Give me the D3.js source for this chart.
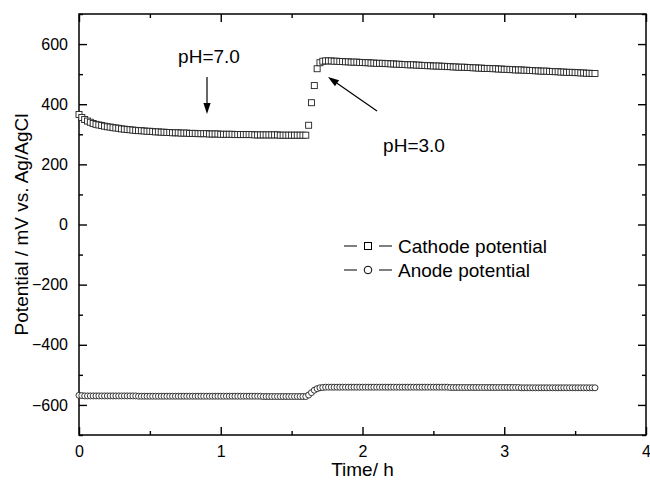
<!DOCTYPE html>
<html><head><meta charset="utf-8">
<script src="https://cdn.jsdelivr.net/npm/d3@7"></script>
<style>
html,body{margin:0;padding:0;background:#fff;}
svg text{font-family:"Liberation Sans",Arial,Helvetica,sans-serif;fill:#000;}
</style></head>
<body><svg id="c" width="650" height="481"></svg>
<script>
// ---- data ----
const times = [
0.00,0.02,0.04,0.06,0.08,0.10,0.12,0.14,0.16,0.18,
0.20,0.22,0.24,0.26,0.28,0.30,0.32,0.34,0.36,0.38,
0.40,0.42,0.44,0.46,0.48,0.50,0.52,0.54,0.56,0.58,
0.60,0.62,0.64,0.66,0.68,0.70,0.72,0.74,0.76,0.78,
0.80,0.82,0.84,0.86,0.88,0.90,0.92,0.94,0.96,0.98,
1.00,1.02,1.04,1.06,1.08,1.10,1.12,1.14,1.16,1.18,
1.20,1.22,1.24,1.26,1.28,1.30,1.32,1.34,1.36,1.38,
1.40,1.42,1.44,1.46,1.48,1.50,1.52,1.54,1.56,1.58,
1.60,1.62,1.64,1.66,1.68,1.70,1.72,1.74,1.76,1.78,
1.80,1.82,1.84,1.86,1.88,1.90,1.92,1.94,1.96,1.98,
2.00,2.02,2.04,2.06,2.08,2.10,2.12,2.14,2.16,2.18,
2.20,2.22,2.24,2.26,2.28,2.30,2.32,2.34,2.36,2.38,
2.40,2.42,2.44,2.46,2.48,2.50,2.52,2.54,2.56,2.58,
2.60,2.62,2.64,2.66,2.68,2.70,2.72,2.74,2.76,2.78,
2.80,2.82,2.84,2.86,2.88,2.90,2.92,2.94,2.96,2.98,
3.00,3.02,3.04,3.06,3.08,3.10,3.12,3.14,3.16,3.18,
3.20,3.22,3.24,3.26,3.28,3.30,3.32,3.34,3.36,3.38,
3.40,3.42,3.44,3.46,3.48,3.50,3.52,3.54,3.56,3.58,
3.60,3.62,3.64];

const cathode = [
366,356,349,344,340,336,333,331,329,327,
325,324,322,321,320,318,317,316,315,314,
313,312,312,311,310,310,309,308,308,307,
307,306,306,305,305,305,304,304,304,303,
303,303,302,302,302,302,301,301,301,301,
300,300,300,300,300,299,299,299,299,299,
299,299,298,298,298,298,298,298,298,298,
298,297,297,297,297,297,297,297,297,297,
297,330,405,462,518,538,543,544,544,544,
543,543,542,542,541,541,540,540,540,539,
539,538,538,537,537,536,536,536,535,535,
534,534,533,533,532,532,531,531,531,530,
530,529,529,528,528,527,527,527,526,526,
525,525,524,524,523,523,523,522,522,521,
521,520,520,519,519,519,518,518,517,517,
516,516,515,515,514,514,514,513,513,512,
512,511,511,510,510,510,509,509,508,508,
507,507,506,506,506,505,505,504,504,503,
503,502,502];

const anode = [
-568,-569,-570,-570,-570,-570,-570,-570,-570,-570,
-570,-570,-570,-570,-570,-570,-570,-570,-570,-570,
-570,-571,-571,-571,-571,-571,-571,-571,-571,-571,
-571,-571,-571,-571,-571,-571,-571,-571,-571,-571,
-571,-571,-571,-571,-571,-571,-571,-571,-571,-571,
-571,-571,-571,-571,-571,-571,-571,-571,-571,-571,
-571,-571,-571,-571,-571,-572,-572,-572,-572,-572,
-572,-572,-572,-572,-572,-572,-572,-572,-572,-572,
-572,-567,-559,-551,-546,-543,-542,-541,-541,-541,
-541,-541,-541,-541,-541,-541,-541,-541,-541,-541,
-541,-541,-541,-541,-541,-541,-541,-541,-541,-541,
-541,-541,-541,-541,-541,-541,-541,-541,-541,-541,
-541,-541,-541,-541,-541,-541,-541,-541,-541,-541,
-541,-542,-542,-542,-542,-542,-542,-542,-542,-542,
-542,-542,-542,-542,-542,-542,-542,-542,-542,-542,
-542,-542,-542,-542,-542,-542,-543,-543,-543,-543,
-543,-543,-543,-543,-543,-543,-543,-543,-543,-543,
-543,-543,-543,-543,-543,-543,-543,-543,-543,-543,
-543,-543,-543];

const xMajorTicks = [0, 1, 2, 3, 4];
const xMinorTicks = [0.5, 1.5, 2.5, 3.5];
const yMajorTicks = [-600, -400, -200, 0, 200, 400, 600];
const yMinorTicks = [-700, -500, -300, -100, 100, 300, 500, 700];
const seriesNames = ["Cathode potential", "Anode potential"];
const annotations = ["pH=7.0", "pH=3.0"];
const xTitle = "Time/ h";
const yTitle = "Potential / mV vs. Ag/AgCl";

// ---- layout ----
const L = 79, R = 646, T = 14, B = 435;
const svg = d3.select("#c");
const x = d3.scaleLinear().domain([0, 4]).range([L, R]);
const y = d3.scaleLinear().domain([-700, 700]).range([B, T]);

const tickFont = "16px", titleFont = "19px";

function styleAxis(g) {
  g.selectAll("path.domain").remove();
  g.selectAll("line").attr("stroke", "#000").attr("stroke-width", 1.4);
  g.selectAll("text").style("font-size", tickFont).attr("fill", "#000");
}

// bottom
svg.append("g").attr("transform", `translate(0,${B})`)
  .call(d3.axisBottom(x).tickValues(xMajorTicks).tickFormat(d3.format("d")).tickSize(-8).tickSizeOuter(0).tickPadding(11))
  .call(styleAxis);
svg.append("g").attr("transform", `translate(0,${B})`)
  .call(d3.axisBottom(x).tickValues(xMinorTicks).tickFormat("").tickSize(-4).tickSizeOuter(0))
  .call(styleAxis);
// top
svg.append("g").attr("transform", `translate(0,${T})`)
  .call(d3.axisTop(x).tickValues(xMajorTicks).tickFormat("").tickSize(-8).tickSizeOuter(0))
  .call(styleAxis);
svg.append("g").attr("transform", `translate(0,${T})`)
  .call(d3.axisTop(x).tickValues(xMinorTicks).tickFormat("").tickSize(-4).tickSizeOuter(0))
  .call(styleAxis);
// left
svg.append("g").attr("transform", `translate(${L},0)`)
  .call(d3.axisLeft(y).tickValues(yMajorTicks).tickFormat(d3.format("d")).tickSize(-8).tickSizeOuter(0).tickPadding(11))
  .call(styleAxis);
svg.append("g").attr("transform", `translate(${L},0)`)
  .call(d3.axisLeft(y).tickValues(yMinorTicks).tickFormat("").tickSize(-4).tickSizeOuter(0))
  .call(styleAxis);
// right
svg.append("g").attr("transform", `translate(${R},0)`)
  .call(d3.axisRight(y).tickValues(yMajorTicks).tickFormat("").tickSize(-8).tickSizeOuter(0))
  .call(styleAxis);
svg.append("g").attr("transform", `translate(${R},0)`)
  .call(d3.axisRight(y).tickValues(yMinorTicks).tickFormat("").tickSize(-4).tickSizeOuter(0))
  .call(styleAxis);

// frame
svg.append("rect").attr("x", L).attr("y", T).attr("width", R - L).attr("height", B - T)
  .attr("fill", "none").attr("stroke", "#000").attr("stroke-width", 1.5);

// series (symbols only)
const markerStroke = "#222";
const sq = 6;
svg.append("g").selectAll("rect").data(cathode).join("rect")
  .attr("x", (d, i) => x(times[i]) - sq / 2).attr("y", d => y(d) - sq / 2)
  .attr("width", sq).attr("height", sq)
  .attr("fill", "#fff").attr("stroke", markerStroke).attr("stroke-width", 0.9);
svg.append("g").selectAll("circle").data(anode).join("circle")
  .attr("cx", (d, i) => x(times[i])).attr("cy", d => y(d)).attr("r", 3)
  .attr("fill", "#fff").attr("stroke", markerStroke).attr("stroke-width", 0.9);

// axis titles
svg.append("text").attr("x", (L + R) / 2).attr("y", 476).attr("text-anchor", "middle")
  .style("font-size", titleFont).text(xTitle);
svg.append("text").attr("transform", `translate(28,${(T + B) / 2}) rotate(-90)`).attr("text-anchor", "middle")
  .style("font-size", titleFont).text(yTitle);

// annotations
svg.append("text").attr("x", 209).attr("y", 63).attr("text-anchor", "middle").style("font-size", titleFont).text(annotations[0]);
svg.append("text").attr("x", 414).attr("y", 152).attr("text-anchor", "middle").style("font-size", titleFont).text(annotations[1]);

function arrow(x1, y1, x2, y2) {
  const ang = Math.atan2(y2 - y1, x2 - x1), len = 11, w = 3.6;
  const bx = x2 - len * Math.cos(ang), by = y2 - len * Math.sin(ang);
  svg.append("line").attr("x1", x1).attr("y1", y1).attr("x2", bx).attr("y2", by)
    .attr("stroke", "#000").attr("stroke-width", 1.2);
  const px = -Math.sin(ang) * w, py = Math.cos(ang) * w;
  svg.append("path").attr("d", `M${x2},${y2}L${bx + px},${by + py}L${bx - px},${by - py}Z`).attr("fill", "#000");
}
arrow(207, 77, 207, 114);
arrow(377, 111, 328, 77);

// legend
const legY = [246, 270];
legY.forEach((ly, k) => {
  svg.append("line").attr("x1", 344).attr("x2", 357).attr("y1", ly).attr("y2", ly).attr("stroke", "#000").attr("stroke-width", 1);
  svg.append("line").attr("x1", 379).attr("x2", 392).attr("y1", ly).attr("y2", ly).attr("stroke", "#000").attr("stroke-width", 1);
  if (k === 0) {
    svg.append("rect").attr("x", 368 - 3.5).attr("y", ly - 3.5).attr("width", 7).attr("height", 7)
      .attr("fill", "#fff").attr("stroke", "#000").attr("stroke-width", 1);
  } else {
    svg.append("circle").attr("cx", 368).attr("cy", ly).attr("r", 3.8)
      .attr("fill", "#fff").attr("stroke", "#000").attr("stroke-width", 1);
  }
  svg.append("text").attr("x", 398).attr("y", ly + 7).style("font-size", titleFont).text(seriesNames[k]);
});
</script></body></html>
